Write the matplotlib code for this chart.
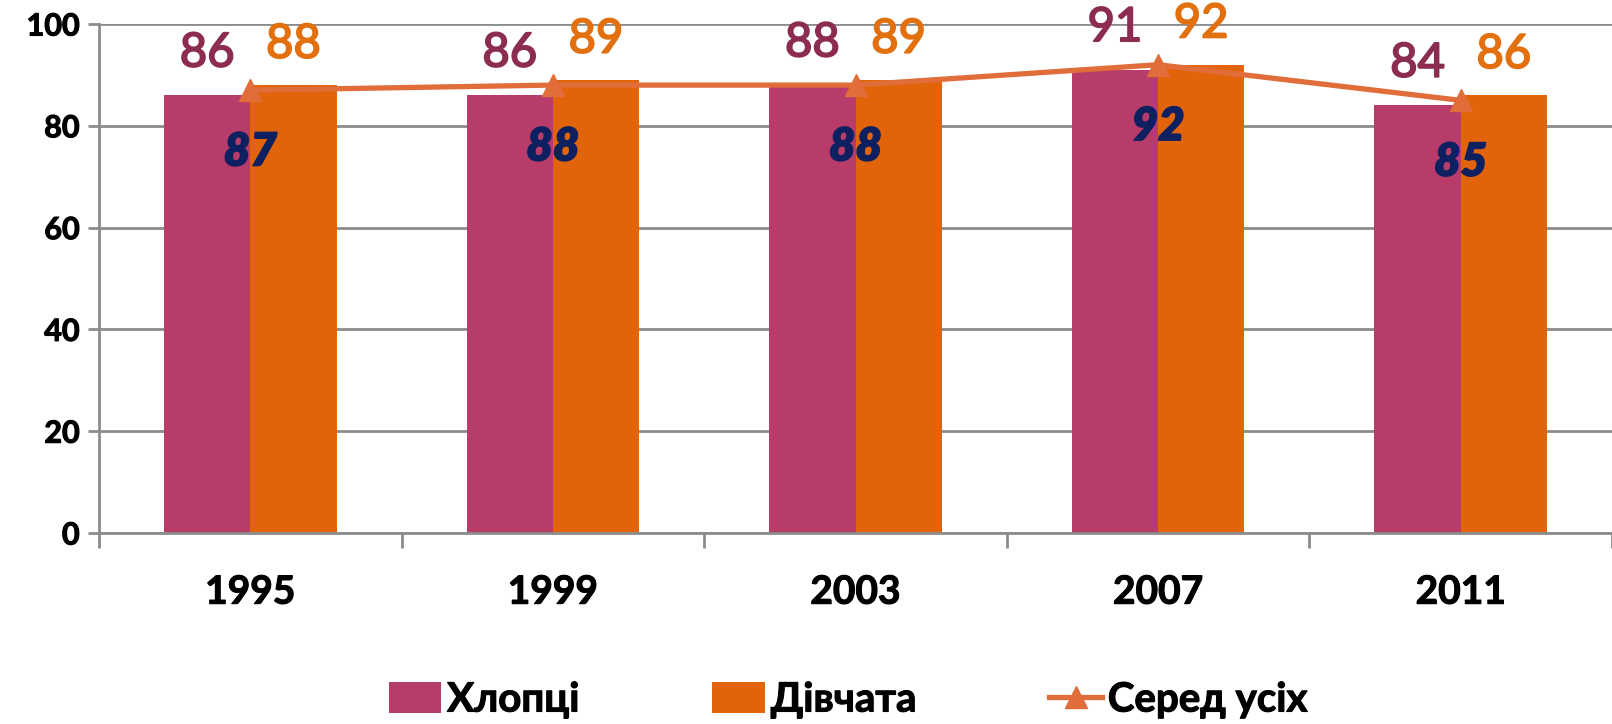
import matplotlib
matplotlib.use("Agg")
import matplotlib.pyplot as plt
import matplotlib.patheffects as pe
import numpy as np

years = ["1995", "1999", "2003", "2007", "2011"]
boys = [86, 86, 88, 91, 84]
girls = [88, 89, 89, 92, 86]
overall = [87, 88, 88, 92, 85]
legend_labels = ["Хлопці", "Дівчата", "Серед усіх"]

FONT = ["Lato", "DejaVu Sans"]
plt.rcParams['font.family'] = FONT

c_boys = "#B83C69"
c_girls = "#E2640A"
c_line = "#E06D3A"
c_boys_lbl = "#8B2C50"
c_girls_lbl = "#E2700F"
c_avg_lbl = "#0F2060"
c_grid = "#8C8C8C"

def thick(color, w=1.2):
    return [pe.withStroke(linewidth=w, foreground=color)]

W, H = 1612, 724
fig = plt.figure(figsize=(W/100, H/100), dpi=100)
ax = fig.add_axes([99/W, 1-533/H, (W-99)/W, (533-24)/H])

x = np.arange(len(years))
bw = 0.285
b1 = ax.bar(x - bw/2, boys, bw, color=c_boys, label=legend_labels[0], zorder=2)
b2 = ax.bar(x + bw/2, girls, bw, color=c_girls, label=legend_labels[1], zorder=2)
ln, = ax.plot(x, overall, color=c_line, lw=3.8, marker="^", ms=16, zorder=3,
              label=legend_labels[2])

ax.set_xlim(-0.5, 4.46)
ax.set_ylim(0, 100)
ax.set_yticks(np.arange(0, 101, 20))
ax.yaxis.grid(True, color=c_grid, lw=2, zorder=0)
ax.set_axisbelow(True)
for s in ["top", "right"]:
    ax.spines[s].set_visible(False)
for s in ["left", "bottom"]:
    ax.spines[s].set_color(c_grid)
    ax.spines[s].set_linewidth(2)
ax.tick_params(axis="y", colors=c_grid, length=8, width=2, pad=6, labelcolor="black",
               labelsize=22)
for t in ax.get_yticklabels():
    t.set_fontweight("bold")
    t.set_path_effects(thick("black", 0.8))

ax.set_xticks(np.arange(-0.5, 4.6, 1.0))
ax.set_xticklabels([])
ax.tick_params(axis="x", which="major", colors=c_grid, length=11, width=2, direction="out")
ax.set_xticks(x, minor=True)
ax.set_xticklabels(years, minor=True, fontsize=28, fontweight="bold")
ax.tick_params(axis="x", which="minor", length=0, pad=30, labelcolor="black")
for t in ax.get_xticklabels(minor=True):
    t.set_path_effects(thick("black", 0.8))

for xi, v in zip(x, boys):
    ax.annotate(str(v), (xi - bw/2, v), xytext=(0, 30), textcoords="offset points",
                ha="center", va="center", fontsize=34, color=c_boys_lbl,
                path_effects=thick(c_boys_lbl, 1.3))
for xi, v in zip(x, girls):
    ax.annotate(str(v), (xi + bw/2, v), xytext=(0, 29), textcoords="offset points",
                ha="center", va="center", fontsize=34, color=c_girls_lbl,
                path_effects=thick(c_girls_lbl, 1.3))
for xi, v in zip(x, overall):
    ax.annotate(str(v), (xi, v), xytext=(0, -45), textcoords="offset points",
                ha="center", va="center", fontsize=33, color=c_avg_lbl,
                fontweight="heavy", fontstyle="italic",
                path_effects=thick(c_avg_lbl, 1.0))

leg = fig.legend(handles=[b1, b2, ln], labels=legend_labels, loc="center",
                 bbox_to_anchor=(848/W, 1-700/H), ncol=3, frameon=False,
                 prop={"family": FONT, "weight": "bold", "size": 29},
                 handlelength=1.3, handleheight=0.8, handletextpad=0.15, columnspacing=3.3)
for t in leg.get_texts():
    t.set_path_effects(thick("black", 0.8))

fig.savefig("out.png", dpi=100)
